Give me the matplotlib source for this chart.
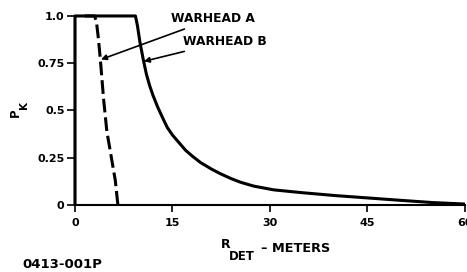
import matplotlib
matplotlib.use("Agg")
import matplotlib.pyplot as plt

# warhead A (dashed) and warhead B (solid), kill probability vs detonation range
xa = [1.5, 3.0, 3.3, 3.6, 3.9, 4.4, 4.9, 5.4, 5.8, 6.2, 6.6]
pa = [1.0, 1.0, 0.97, 0.88, 0.77, 0.56, 0.39, 0.29, 0.21, 0.13, 0.0]

xb = [0, 0, 9.3, 9.6, 10.0, 10.5, 11.0, 11.5, 12.0, 12.7, 13.5, 14.2, 15.0, 16.0, 17.0, 18.0,
      19.3, 21.0, 22.4, 24.0, 25.5, 27.5, 30.6, 35.0, 40.0, 45.6, 50.0, 55.0, 60.0]
pb = [0, 1.0, 1.0, 0.95, 0.86, 0.77, 0.69, 0.63, 0.58, 0.52, 0.46, 0.41, 0.37, 0.33, 0.29, 0.26,
      0.225, 0.19, 0.165, 0.14, 0.12, 0.10, 0.08, 0.065, 0.05, 0.036, 0.025, 0.013, 0.005]

xticks = [0, 15, 30, 45, 60]
xticklabels = ["0", "15", "30", "45", "60"]
yticks = [0, 0.25, 0.5, 0.75, 1.0]
yticklabels = ["0", "0.25", "0.5", "0.75", "1.0"]

plt.rcParams['font.family'] = ['DejaVu Sans']
plt.rcParams['font.weight'] = 'bold'

fig = plt.figure(figsize=(4.67, 2.72), dpi=100)
ax = fig.add_axes([0.1606, 0.2463, 0.835, 0.695])

ax.plot(xb, pb, color='black', lw=2.2, clip_on=False, solid_capstyle='butt')
ax.plot(xa, pa, color='black', lw=2.2, ls=(0, (4.5, 1.6)), clip_on=False)

ax.set_xlim(0, 60)
ax.set_ylim(0, 1.0)
ax.set_xticks(xticks)
ax.set_xticklabels(xticklabels)
ax.set_yticks(yticks)
ax.set_yticklabels(yticklabels)
ax.tick_params(axis='x', direction='out', length=5, width=1.2, labelsize=8, pad=4)
ax.tick_params(axis='y', direction='out', length=6, width=1.2, labelsize=8, pad=1.5)
ax.spines['top'].set_visible(False)
ax.spines['right'].set_visible(False)
ax.spines['left'].set_linewidth(1.5)
ax.spines['bottom'].set_linewidth(1.5)

# axis labels with full-size subscripts, as in the original drawing
H = 272.0
W = 467.0
fig.text(15 / W, 1 - 113 / H, "P", fontsize=8.5, rotation=90, ha='center', va='center')
fig.text(24 / W, 1 - 105 / H, "K", fontsize=7.5, rotation=90, ha='center', va='center')
fig.text(221 / W, 1 - 244.5 / H, "R", fontsize=9, ha='left', va='center')
fig.text(229 / W, 1 - 257 / H, "DET", fontsize=8.5, ha='left', va='center')
fig.text(261 / W, 1 - 248 / H, "– METERS", fontsize=9.3, ha='left', va='center')

ax.annotate("WARHEAD A", xy=(4.0, 0.77), xytext=(14.7, 0.985),
            fontsize=8.8, va='center', ha='left',
            arrowprops=dict(arrowstyle='-|>', color='black', lw=1.2, mutation_scale=8,
                            shrinkA=2, shrinkB=0))
ax.annotate("WARHEAD B", xy=(10.6, 0.76), xytext=(16.6, 0.865),
            fontsize=8.8, va='center', ha='left',
            arrowprops=dict(arrowstyle='-|>', color='black', lw=1.2, mutation_scale=8,
                            shrinkA=2, shrinkB=0))

fig.text(22 / W, 1 - 264 / H, "0413-001P", fontsize=9.5, ha='left', va='center')

fig.savefig("out.png", dpi=100)
